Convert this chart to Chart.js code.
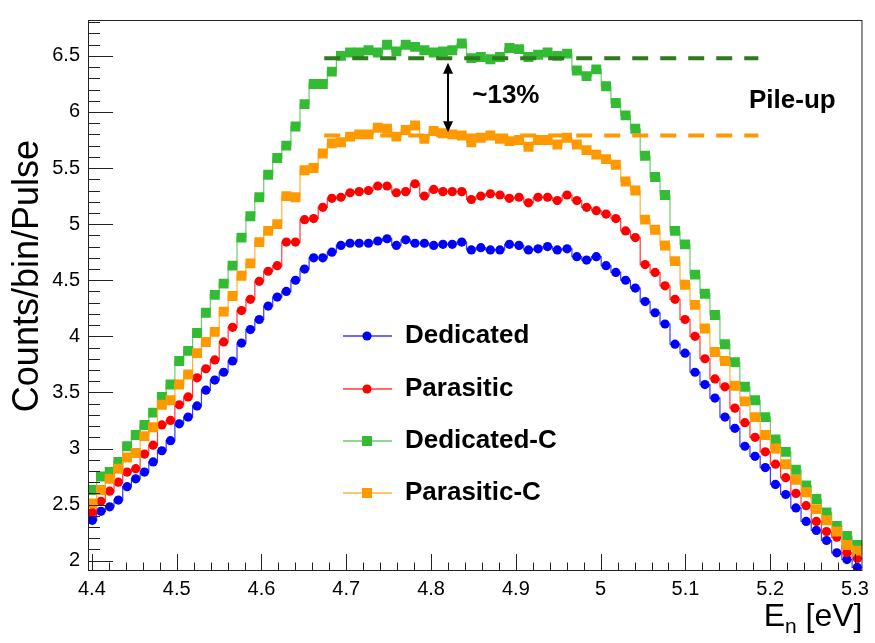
<!DOCTYPE html>
<html>
<head>
<meta charset="utf-8">
<script src="https://cdn.jsdelivr.net/npm/chart.js@4.4.1/dist/chart.umd.min.js"></script>
<style>
html, body { margin:0; padding:0; background:#fff; }
#wrap { position:relative; width:875px; height:643px; }
</style>
</head>
<body>
<div id="wrap"><canvas id="c"></canvas></div>
<script>
// log bins, 1000 per decade, centres in eV
const binCenters = [
  4.4005, 4.4107, 4.4210, 4.4312, 4.4415, 4.4517, 4.4620, 4.4722, 4.4825, 4.4927,
  4.5030, 4.5135, 4.5240, 4.5344, 4.5449, 4.5554, 4.5659, 4.5764, 4.5869, 4.5974,
  4.6079, 4.6186, 4.6293, 4.6401, 4.6508, 4.6615, 4.6723, 4.6830, 4.6937, 4.7045,
  4.7152, 4.7262, 4.7372, 4.7481, 4.7591, 4.7701, 4.7811, 4.7921, 4.8031, 4.8140,
  4.8250, 4.8362, 4.8475, 4.8587, 4.8700, 4.8812, 4.8924, 4.9037, 4.9149, 4.9262,
  4.9374, 4.9489, 4.9604, 4.9719, 4.9834, 4.9949, 5.0064, 5.0179, 5.0294, 5.0409,
  5.0524, 5.0642, 5.0759, 5.0877, 5.0995, 5.1113, 5.1230, 5.1348, 5.1466, 5.1583,
  5.1701, 5.1821, 5.1942, 5.2062, 5.2183, 5.2303, 5.2424, 5.2544, 5.2664, 5.2785,
  5.2905, 5.3027
];
const binLow = 4.3954, binHigh = 5.3088;

const dedicated = [
  2.36, 2.44, 2.48, 2.54, 2.66, 2.73, 2.79, 2.88, 2.98, 3.07,
  3.22, 3.28, 3.38, 3.52, 3.61, 3.68, 3.78, 3.94, 4.06, 4.15,
  4.27, 4.35, 4.40, 4.50, 4.60, 4.70, 4.70, 4.75, 4.81, 4.83,
  4.83, 4.83, 4.85, 4.87, 4.81, 4.86, 4.83, 4.83, 4.81, 4.82,
  4.82, 4.84, 4.77, 4.79, 4.77, 4.77, 4.82, 4.81, 4.77, 4.78,
  4.80, 4.77, 4.78, 4.71, 4.68, 4.71, 4.63, 4.57, 4.50, 4.43,
  4.31, 4.21, 4.11, 3.93, 3.85, 3.68, 3.57, 3.45, 3.28, 3.18,
  3.02, 2.93, 2.83, 2.68, 2.59, 2.47, 2.35, 2.27, 2.18, 2.07,
  2.01, 1.94
];
const parasitic = [
  2.43, 2.53, 2.62, 2.70, 2.79, 2.82, 2.95, 3.03, 3.21, 3.25,
  3.39, 3.46, 3.63, 3.71, 3.79, 3.95, 4.08, 4.23, 4.33, 4.49,
  4.58, 4.63, 4.84, 4.84, 5.04, 5.05, 5.15, 5.23, 5.24, 5.28,
  5.29, 5.30, 5.34, 5.34, 5.28, 5.29, 5.36, 5.25, 5.31, 5.29,
  5.29, 5.29, 5.22, 5.25, 5.27, 5.26, 5.23, 5.24, 5.19, 5.24,
  5.24, 5.21, 5.26, 5.21, 5.15, 5.12, 5.09, 5.05, 4.94, 4.88,
  4.64, 4.57, 4.45, 4.33, 4.15, 4.00, 3.80, 3.62, 3.55, 3.36,
  3.23, 3.10, 2.97, 2.86, 2.74, 2.60, 2.49, 2.35, 2.26, 2.21,
  2.07, 2.02
];
const dedicatedC = [
  2.63, 2.75, 2.79, 2.88, 3.02, 3.12, 3.21, 3.32, 3.46, 3.57,
  3.78, 3.87, 4.03, 4.21, 4.37, 4.47, 4.63, 4.88, 5.07, 5.24,
  5.44, 5.59, 5.70, 5.87, 6.07, 6.25, 6.25, 6.36, 6.50, 6.53,
  6.53, 6.55, 6.53, 6.60, 6.54, 6.60, 6.58, 6.55, 6.53, 6.54,
  6.55, 6.61, 6.48, 6.49, 6.47, 6.49, 6.57, 6.56, 6.49, 6.51,
  6.53, 6.50, 6.52, 6.37, 6.32, 6.38, 6.23, 6.08, 5.97, 5.85,
  5.61, 5.42, 5.26, 4.94, 4.82, 4.55, 4.38, 4.19, 3.93, 3.77,
  3.55, 3.43, 3.28, 3.08, 2.97, 2.81, 2.67, 2.55, 2.43, 2.31,
  2.22, 2.14
];
const parasiticC = [
  2.51, 2.63, 2.73, 2.82, 2.92, 2.96, 3.11, 3.19, 3.39, 3.43,
  3.57, 3.66, 3.85, 3.95, 4.04, 4.22, 4.36, 4.54, 4.65, 4.84,
  4.94, 5.00, 5.25, 5.24, 5.48, 5.50, 5.63, 5.72, 5.73, 5.78,
  5.80, 5.80, 5.86, 5.85, 5.78, 5.84, 5.88, 5.76, 5.83, 5.81,
  5.80, 5.79, 5.73, 5.77, 5.79, 5.76, 5.74, 5.75, 5.69, 5.75,
  5.75, 5.71, 5.77, 5.71, 5.66, 5.62, 5.58, 5.53, 5.38, 5.30,
  5.04, 4.95, 4.81, 4.67, 4.46, 4.28, 4.07, 3.86, 3.78, 3.56,
  3.42, 3.28, 3.12, 3.00, 2.86, 2.72, 2.61, 2.46, 2.36, 2.26,
  2.14, 2.09
];

const xTicks = [4.4, 4.5, 4.6, 4.7, 4.8, 4.9, 5.0, 5.1, 5.2, 5.3];
const xTickLabels = ['4.4', '4.5', '4.6', '4.7', '4.8', '4.9', '5', '5.1', '5.2', '5.3'];
const yTicks = [2, 2.5, 3, 3.5, 4, 4.5, 5, 5.5, 6, 6.5];
const yTickLabels = ['2', '2.5', '3', '3.5', '4', '4.5', '5', '5.5', '6', '6.5'];
const yMin = 1.908, yMax = 6.82;

// pile-up levels and the ~13% arrow
const pileupX = [4.674, 5.186];
const levelDedicatedC = [6.48, 6.48];
const levelParasiticC = [5.79, 5.79];
const arrowX = 4.82;
const arrowY = [6.44, 5.82];

const legendItems = [
  { label: 'Dedicated', color: '#0000ff', line: '#3a3aff', style: 'circle' },
  { label: 'Parasitic', color: '#ff0000', line: '#ff3a3a', style: 'circle' },
  { label: 'Dedicated-C', color: '#33bb33', line: '#6acd6a', style: 'rect' },
  { label: 'Parasitic-C', color: '#ff9900', line: '#ffb040', style: 'rect' }
];

Chart.defaults.font.family = "'Liberation Sans', Arial, Helvetica, sans-serif";

function histPoints(vals){
  const pts = binCenters.map((x, i) => ({ x, y: vals[i] }));
  pts.unshift({ x: binLow, y: vals[0] });
  pts.push({ x: binHigh, y: vals[vals.length - 1] });
  return pts;
}
const hideEdges = r => c => (c.dataIndex === 0 || c.dataIndex === binCenters.length + 1) ? 0 : r;

function histSet(item, vals, r, order){
  return {
    label: item.label, data: histPoints(vals), stepped: 'middle',
    borderColor: item.line, borderWidth: 1.2,
    backgroundColor: item.color, pointBackgroundColor: item.color,
    pointBorderWidth: 0, pointStyle: item.style, pointRadius: hideEdges(r),
    order
  };
}
function levelSet(ys, color){
  return {
    data: pileupX.map((x, i) => ({ x, y: ys[i] })),
    borderColor: color, borderWidth: 4, borderDash: [16, 12],
    pointRadius: 0, order: 0
  };
}

function drawMarker(ctx, item, x, y){
  ctx.fillStyle = item.color;
  if (item.style === 'circle') { ctx.beginPath(); ctx.arc(x, y, 4.6, 0, Math.PI * 2); ctx.fill(); }
  else ctx.fillRect(x - 5, y - 5, 10, 10);
}

const overlay = {
  id: 'overlay',
  afterDatasetsDraw(chart){
    const { ctx, chartArea: a, scales: { x, y } } = chart;
    ctx.save();

    // frame
    ctx.strokeStyle = '#222'; ctx.lineWidth = 1;
    ctx.strokeRect(a.left + 0.5, a.top + 0.5, a.right - a.left - 1, a.bottom - a.top - 1);

    // inward ticks, ROOT style
    ctx.beginPath();
    for (let k = 19; k <= 68; k++) {
      const v = k / 10;
      if (v < yMin || v > yMax) continue;
      const py = Math.round(y.getPixelForValue(v)) + 0.5;
      const len = k % 5 === 0 ? 25 : 12;
      ctx.moveTo(a.left, py); ctx.lineTo(a.left + len, py);
    }
    for (let k = 220; k <= 265; k++) {
      const px = Math.round(x.getPixelForValue(k / 50)) + 0.5;
      const len = k % 5 === 0 ? 17 : 8.5;
      ctx.moveTo(px, a.bottom); ctx.lineTo(px, a.bottom - len);
    }
    ctx.stroke();

    // arrow
    const ax = x.getPixelForValue(arrowX);
    const ay1 = y.getPixelForValue(arrowY[0]), ay2 = y.getPixelForValue(arrowY[1]);
    ctx.strokeStyle = '#000'; ctx.fillStyle = '#000'; ctx.lineWidth = 2;
    ctx.beginPath(); ctx.moveTo(ax, ay1 + 8); ctx.lineTo(ax, ay2 - 8); ctx.stroke();
    ctx.beginPath(); ctx.moveTo(ax, ay1); ctx.lineTo(ax - 5, ay1 + 11); ctx.lineTo(ax + 5, ay1 + 11); ctx.fill();
    ctx.beginPath(); ctx.moveTo(ax, ay2); ctx.lineTo(ax - 5, ay2 - 11); ctx.lineTo(ax + 5, ay2 - 11); ctx.fill();

    // annotations
    ctx.textBaseline = 'middle'; ctx.textAlign = 'left';
    ctx.font = "bold 26px 'Liberation Sans', Arial, sans-serif";
    ctx.fillText('~13%', x.getPixelForValue(4.8486), y.getPixelForValue(6.14));
    ctx.fillText('Pile-up', x.getPixelForValue(5.175), y.getPixelForValue(6.10));

    // legend
    const legY = [336, 389, 441, 493];
    legendItems.forEach((it, i) => {
      ctx.strokeStyle = it.line; ctx.lineWidth = 1.5;
      ctx.beginPath(); ctx.moveTo(343, legY[i]); ctx.lineTo(392, legY[i]); ctx.stroke();
      drawMarker(ctx, it, 367, legY[i]);
      ctx.fillStyle = '#000';
      ctx.font = "bold 26px 'Liberation Sans', Arial, sans-serif";
      ctx.fillText(it.label, 405, legY[i]);
    });

    // axis titles
    ctx.fillStyle = '#000';
    ctx.textBaseline = 'alphabetic';
    ctx.font = "32px 'Liberation Sans', Arial, sans-serif";
    const tail = ' [eV]';
    const wTail = ctx.measureText(tail).width;
    ctx.textAlign = 'right';
    ctx.fillText(tail, a.right, 626);
    ctx.font = "21px 'Liberation Sans', Arial, sans-serif";
    const wSub = ctx.measureText('n').width;
    ctx.fillText('n', a.right - wTail, 633);
    ctx.font = "32px 'Liberation Sans', Arial, sans-serif";
    ctx.fillText('E', a.right - wTail - wSub, 626);

    ctx.save();
    ctx.translate(38, 140);
    ctx.rotate(-Math.PI / 2);
    ctx.textAlign = 'right';
    ctx.font = "36px 'Liberation Sans', Arial, sans-serif";
    ctx.fillText('Counts/bin/Pulse', 0, 0);
    ctx.restore();

    ctx.restore();
  }
};

new Chart(document.getElementById('c'), {
  type: 'line',
  data: {
    datasets: [
      levelSet(levelDedicatedC, '#2e7a1c'),
      levelSet(levelParasiticC, '#ff9900'),
      histSet(legendItems[3], parasiticC, 7, 1),
      histSet(legendItems[2], dedicatedC, 7, 2),
      histSet(legendItems[1], parasitic, 4.6, 3),
      histSet(legendItems[0], dedicated, 4.6, 4)
    ]
  },
  options: {
    responsive: true, maintainAspectRatio: false, animation: false,
    layout: { padding: { left: 0, right: 9, top: 9, bottom: 0 } },
    plugins: { legend: { display: false }, tooltip: { enabled: false } },
    scales: {
      x: {
        type: 'linear', min: binLow, max: binHigh,
        grid: { display: false, drawTicks: false }, border: { display: false },
        afterBuildTicks: s => { s.ticks = xTicks.map(v => ({ value: v })); },
        afterFit: s => { s.height = 72; },
        ticks: {
          color: '#000', padding: 6, maxRotation: 0, autoSkip: false,
          font: { size: 20 },
          callback: v => xTickLabels[xTicks.findIndex(t => Math.abs(t - v) < 1e-6)]
        }
      },
      y: {
        type: 'linear', min: yMin, max: yMax,
        grid: { display: false, drawTicks: false }, border: { display: false },
        afterBuildTicks: s => { s.ticks = yTicks.map(v => ({ value: v })); },
        afterFit: s => { s.width = 88; },
        ticks: {
          color: '#000', padding: 8, autoSkip: false,
          font: { size: 20 },
          callback: v => yTickLabels[yTicks.findIndex(t => Math.abs(t - v) < 1e-6)]
        }
      }
    }
  },
  plugins: [overlay]
});
</script>
</body>
</html>
